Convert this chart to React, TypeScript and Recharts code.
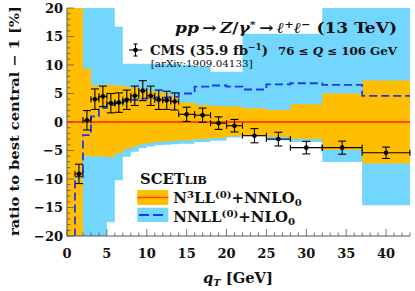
import React from 'react';
import { ComposedChart, Area, Line, Scatter, XAxis, YAxis, ErrorBar } from 'recharts';

// Bin edges for theory predictions (GeV)
const binEdges = [0, 1, 2, 3, 4, 5, 6, 7, 8, 9, 10, 11, 12, 13, 14, 16, 18, 20, 22, 25, 28, 32, 37, 43];

// N3LL(0)+NNLO0 band relative to best central [%]
const n3llLo = [-25, -25, -6.0, -6.0, -6.0, -6.2, -5.5, -4.8, -4.3, -3.9, -3.7, -3.5, -3.4, -3.3, -3.2, -3.0, -2.8, -2.5, -2.4, -2.6, -3.0, -4.9, -7.3];
const n3llHi = [25, 25, 9.4, 6.4, 6.5, 6.5, 6.4, 6.2, 6.0, 5.8, 5.5, 5.2, 4.9, 4.5, 3.4, 3.0, 2.8, 2.7, 2.4, 2.1, 3.1, 5.0, 7.3];

// NNLL(0)+NLO0 band and central
const nnllLo = [-25, -25, -25, -25, -25, -17.6, -10.2, -6.1, -5.2, -4.6, -4.3, -4.1, -4.0, -3.9, -3.8, -3.5, -3.3, -2.7, -2.5, -3.2, -3.5, -7.0, -14.6];
const nnllHi = [25, 25, 25, 25, 25, 25, 16.7, 10.2, 10.2, 10.2, 10.2, 10.2, 10.2, 10.2, 10.0, 9.8, 8.8, 8.8, 15.5, 15.5, 15.5, 25, 25];
const nnllCentral = [-25, -9.6, -2.3, 1.0, 2.5, 3.0, 3.3, 3.6, 3.9, 4.1, 4.2, 4.3, 4.3, 4.4, 5.0, 6.2, 6.4, 6.2, 5.7, 6.6, 6.8, 6.5, 4.6];

// CMS data
const cmsQt = [1.5, 2.5, 3.5, 4.5, 5.5, 6.5, 7.5, 8.5, 9.5, 10.5, 11.5, 12.5, 13.5, 15, 17, 19, 21, 23.5, 26.5, 30, 34.5, 40];
const cmsHalfWidth = [0.5, 0.5, 0.5, 0.5, 0.5, 0.5, 0.5, 0.5, 0.5, 0.5, 0.5, 0.5, 0.5, 1, 1, 1, 1, 1.5, 1.5, 2, 2.5, 3];
const cmsRatio = [-9.1, 0.3, 4.0, 4.5, 3.3, 3.4, 3.9, 4.6, 5.5, 4.6, 3.9, 3.8, 3.6, 1.35, 1.2, -0.2, -0.65, -2.4, -3.0, -4.5, -4.5, -5.4];
const cmsErr = [1.7, 1.7, 1.8, 1.8, 1.7, 1.7, 1.7, 1.7, 1.75, 1.7, 1.7, 1.6, 1.5, 1.25, 1.25, 1.1, 1.1, 1.25, 1.2, 1.1, 1.15, 1.0];

const xTicks = Array.from({ length: 44 }, (_, i) => i);
const yTicks = Array.from({ length: 41 }, (_, i) => i - 20);

const bandData = binEdges.map((e, i) => {
  const j = Math.min(i, binEdges.length - 2);
  return {
    qt: e,
    n3ll: [n3llLo[j], n3llHi[j]],
    nnll: [nnllLo[j], nnllHi[j]],
    nnllC: nnllCentral[j],
    zero: 0,
  };
});

const cmsData = cmsQt.map((q, i) => ({ qt: q, ratio: cmsRatio[i], ex: cmsHalfWidth[i], ey: cmsErr[i] }));

const FONT = '"DejaVu Serif", serif';
const FRAME = '#555';
const ORANGE = '#FFBF00';
const SKY = '#73D6FF';
const RED = '#FF4A00';
const DASH = '#1A3CE8';

const BottomTick = (p: any) => {
  const { x, y, payload } = p;
  const v = payload.value;
  const major = v % 5 === 0;
  return (
    <g>
      <line x1={x} x2={x} y1={y} y2={y - (major ? 7 : 3.5)} stroke={FRAME} strokeWidth={0.8} />
      {major && v <= 40 && (
        <text x={x} y={y + 21.5} textAnchor="middle" fontFamily={FONT} fontWeight="bold" fontSize={13} fill="#111">
          {v}
        </text>
      )}
    </g>
  );
};

const TopTick = (p: any) => {
  const { x, y, payload } = p;
  const major = payload.value % 5 === 0;
  return <line x1={x} x2={x} y1={y} y2={y + (major ? 7 : 3.5)} stroke={FRAME} strokeWidth={0.8} />;
};

const LeftTick = (p: any) => {
  const { x, y, payload } = p;
  const v = payload.value;
  const major = v % 5 === 0;
  return (
    <g>
      <line x1={x} x2={x + (major ? 7 : 3.5)} y1={y} y2={y} stroke={FRAME} strokeWidth={0.8} />
      {major && (
        <text x={x - 4} y={y + 4.5} textAnchor="end" fontFamily={FONT} fontWeight="bold" fontSize={13} fill="#111">
          {v < 0 ? '\u2212' + Math.abs(v) : String(v)}
        </text>
      )}
    </g>
  );
};

const RightTick = (p: any) => {
  const { x, y, payload } = p;
  const major = payload.value % 5 === 0;
  return <line x1={x} x2={x - (major ? 7 : 3.5)} y1={y} y2={y} stroke={FRAME} strokeWidth={0.8} />;
};

const Dot = (p: any) => <circle cx={p.cx} cy={p.cy} r={2.3} fill="#000" />;

export default function App() {
  return (
    <div style={{ position: 'fixed', left: 0, top: 0, width: 415, height: 291, background: '#fff' }}>
      <ComposedChart width={415} height={291} data={bandData} margin={{ top: 8, right: 5, bottom: 0, left: 0 }}>
        <XAxis
          dataKey="qt"
          type="number"
          domain={[0, 43]}
          ticks={xTicks}
          interval={0}
          tick={<BottomTick />}
          tickLine={false}
          tickSize={0}
          tickMargin={0}
          height={55}
          axisLine={{ stroke: FRAME, strokeWidth: 1 }}
          allowDataOverflow
        />
        <XAxis
          xAxisId="top"
          orientation="top"
          type="number"
          domain={[0, 43]}
          ticks={xTicks}
          interval={0}
          tick={<TopTick />}
          tickLine={false}
          tickSize={0}
          tickMargin={0}
          height={0}
          axisLine={{ stroke: FRAME, strokeWidth: 1 }}
          allowDataOverflow
        />
        <YAxis
          type="number"
          domain={[-20, 20]}
          ticks={yTicks}
          interval={0}
          tick={<LeftTick />}
          tickLine={false}
          tickSize={0}
          tickMargin={0}
          width={67}
          axisLine={{ stroke: FRAME, strokeWidth: 1 }}
          allowDataOverflow
        />
        <YAxis
          yAxisId="right"
          orientation="right"
          type="number"
          domain={[-20, 20]}
          ticks={yTicks}
          interval={0}
          tick={<RightTick />}
          tickLine={false}
          tickSize={0}
          tickMargin={0}
          width={0}
          axisLine={{ stroke: FRAME, strokeWidth: 1 }}
          allowDataOverflow
        />
        <Area dataKey="nnll" type="stepAfter" stroke="none" fill={SKY} fillOpacity={1} isAnimationActive={false} />
        <Area dataKey="n3ll" type="stepAfter" stroke="none" fill={ORANGE} fillOpacity={1} isAnimationActive={false} />
        <Line dataKey="zero" type="stepAfter" stroke={RED} strokeWidth={2} dot={false} isAnimationActive={false} />
        <Line dataKey="nnllC" type="stepAfter" stroke={DASH} strokeWidth={1.8} strokeDasharray="8 4" dot={false} isAnimationActive={false} />
        <Scatter data={cmsData} dataKey="ratio" shape={<Dot />} isAnimationActive={false}>
          <ErrorBar dataKey="ex" direction="x" width={3} stroke="#000" strokeWidth={1.1} />
          <ErrorBar dataKey="ey" direction="y" width={4} stroke="#000" strokeWidth={1.1} />
        </Scatter>
      </ComposedChart>
      <svg width={415} height={291} style={{ position: 'absolute', left: 0, top: 0, pointerEvents: 'none' }}>
        <g fontFamily={FONT} fontWeight="bold" fill="#111">
          <text x={175} y={33} fontSize={15} textLength={222} lengthAdjust="spacingAndGlyphs">
            <tspan fontStyle="italic">pp</tspan>
            <tspan>{'\u2009\u2192\u2009'}</tspan>
            <tspan fontStyle="italic">Z</tspan>
            <tspan>/</tspan>
            <tspan fontStyle="italic">{'\u03b3'}</tspan>
            <tspan dy={-5} fontSize={10}>*</tspan>
            <tspan dy={5}>{'\u2009\u2192\u2009'}</tspan>
            <tspan fontStyle="italic">{'\u2113'}</tspan>
            <tspan dy={-5} fontSize={10}>+</tspan>
            <tspan dy={5} fontStyle="italic">{'\u2113'}</tspan>
            <tspan dy={-5} fontSize={10}>{'\u2212'}</tspan>
            <tspan dy={5}> (13 TeV)</tspan>
          </text>
          <g stroke="#000" strokeWidth={1.1}>
            <line x1={129} x2={142} y1={50} y2={50} />
            <line x1={135.5} x2={135.5} y1={44} y2={56} />
            <line x1={133.5} x2={137.5} y1={44} y2={44} />
            <line x1={133.5} x2={137.5} y1={56} y2={56} />
          </g>
          <circle cx={135.5} cy={50} r={2.3} fill="#000" />
          <text x={150} y={55} fontSize={13.5} textLength={118} lengthAdjust="spacingAndGlyphs">
            <tspan>CMS (35.9 fb</tspan>
            <tspan dy={-5} fontSize={9}>{'\u22121'}</tspan>
            <tspan dy={5}>)</tspan>
          </text>
          <text x={278} y={54.5} fontSize={11} textLength={119} lengthAdjust="spacingAndGlyphs">
            <tspan>76 {'\u2264'} </tspan>
            <tspan fontStyle="italic">Q</tspan>
            <tspan> {'\u2264'} 106 GeV</tspan>
          </text>
          <text x={150.7} y={66.5} fontSize={9} fontWeight="normal" textLength={102} lengthAdjust="spacingAndGlyphs">
            [arXiv:1909.04133]
          </text>

          <text x={140} y={184} fontSize={14} textLength={67} lengthAdjust="spacingAndGlyphs">
            <tspan>SCET</tspan>
            <tspan fontSize={10.5}>LIB</tspan>
          </text>
          <rect x={137.3} y={190} width={31} height={15} fill={ORANGE} />
          <line x1={137.3} x2={168.3} y1={197.5} y2={197.5} stroke={RED} strokeWidth={1.5} />
          <rect x={137.3} y={207.7} width={31} height={14.3} fill={SKY} />
          <line x1={139} x2={167} y1={215} y2={215} stroke={DASH} strokeWidth={1.8} strokeDasharray="10 4" />
          <text x={173.3} y={202.5} fontSize={14} textLength={128.4} lengthAdjust="spacingAndGlyphs">
            <tspan>N</tspan>
            <tspan dy={-5} fontSize={9.5}>3</tspan>
            <tspan dy={5}>LL</tspan>
            <tspan dy={-5} fontSize={9.5}>(0)</tspan>
            <tspan dy={5}>+NNLO</tspan>
            <tspan dy={3} fontSize={9.5}>0</tspan>
          </text>
          <text x={173.3} y={221.5} fontSize={14} textLength={121.7} lengthAdjust="spacingAndGlyphs">
            <tspan>NNLL</tspan>
            <tspan dy={-5} fontSize={9.5}>(0)</tspan>
            <tspan dy={5}>+NLO</tspan>
            <tspan dy={3} fontSize={9.5}>0</tspan>
          </text>

          <text x={203} y={283} fontSize={15} textLength={70} lengthAdjust="spacingAndGlyphs">
            <tspan fontStyle="italic">q</tspan>
            <tspan dy={3} fontSize={10} fontStyle="italic">T</tspan>
            <tspan dy={-3}> [GeV]</tspan>
          </text>
          <text
            x={0}
            y={0}
            fontSize={13}
            textAnchor="middle"
            textLength={230}
            lengthAdjust="spacingAndGlyphs"
            transform="translate(19,121) rotate(-90)"
          >
            ratio to best central {'\u2212'} 1 [%]
          </text>
        </g>
      </svg>
    </div>
  );
}
